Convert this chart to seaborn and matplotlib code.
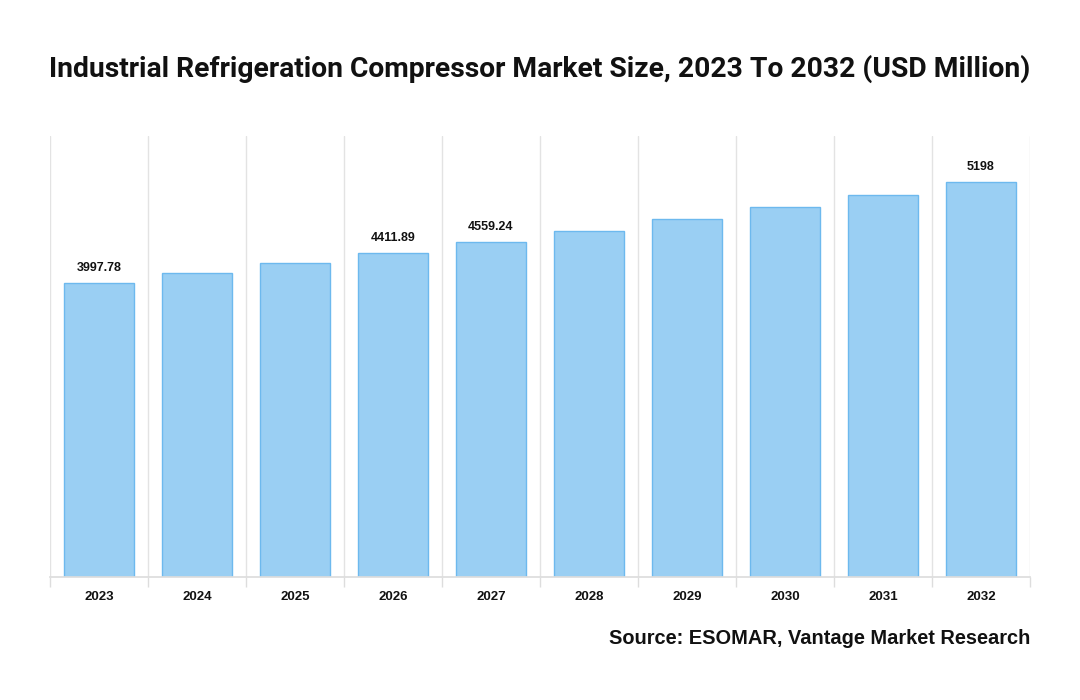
import matplotlib
matplotlib.use('Agg')
import matplotlib.pyplot as plt
import seaborn as sns
import pandas as pd
import numpy as np

# datos
years = ['2023', '2024', '2025', '2026', '2027', '2028', '2029', '2030', '2031', '2032']
values = [3997.78, 4134, 4270, 4411.89, 4559.24, 4706, 4869, 5032, 5195, 5372]
labels = ['3997.78', '', '', '4411.89', '4559.24', '', '', '', '', '5198']

df = pd.DataFrame({'Year': years, 'Value': values})

sns.set_theme(style='white')
plt.rcParams['font.family'] = ['Liberation Sans', 'DejaVu Sans']

fig = plt.figure(figsize=(10.8, 7), dpi=100)
ax = fig.add_axes([50 / 1080, 123 / 700, 980 / 1080, 441 / 700])

sns.barplot(data=df, x='Year', y='Value', color='#9ACFF3', edgecolor='#6DB9EE',
            linewidth=1, width=0.71, saturation=1, ax=ax, zorder=2)

ax.set_ylim(0, 6000)
ax.set_xlim(-0.5, len(years) - 0.5)

# lineas verticales entre categorias
for b in np.arange(-0.5, len(years), 1):
    ax.axvline(b, color='#E3E3E3', linewidth=1, zorder=0)

for i, lab in enumerate(labels):
    if lab:
        ax.text(i, values[i] + 120, lab, ha='center', va='bottom',
                fontsize=9, fontweight='bold', color='#111111')

for s in ['top', 'right', 'left']:
    ax.spines[s].set_visible(False)
ax.spines['bottom'].set_color('#DDDDDD')
ax.set_yticks([])
ax.set_xticks(np.arange(-0.5, len(years), 1), minor=True)
ax.tick_params(axis='x', which='minor', length=7, color='#DDDDDD', bottom=True)
ax.tick_params(axis='x', which='major', length=0, pad=10, labelsize=9.5)
for t in ax.get_xticklabels():
    t.set_fontweight('bold')
    t.set_color('#111111')
ax.set_xlabel('')
ax.set_ylabel('')

fig.text(540 / 1080, 1 - 69 / 700,
         'Industrial Refrigeration Compressor Market Size, 2023 To 2032 (USD Million)',
         ha='center', va='center', fontsize=20.3, fontweight='bold',
         family=['Roboto', 'Liberation Sans'], color='#111111')
fig.text(1030 / 1080, 1 - 638 / 700, 'Source: ESOMAR, Vantage Market Research',
         ha='right', va='center', fontsize=14.4, fontweight='bold', color='#111111')

fig.savefig('out.png', dpi=100)
